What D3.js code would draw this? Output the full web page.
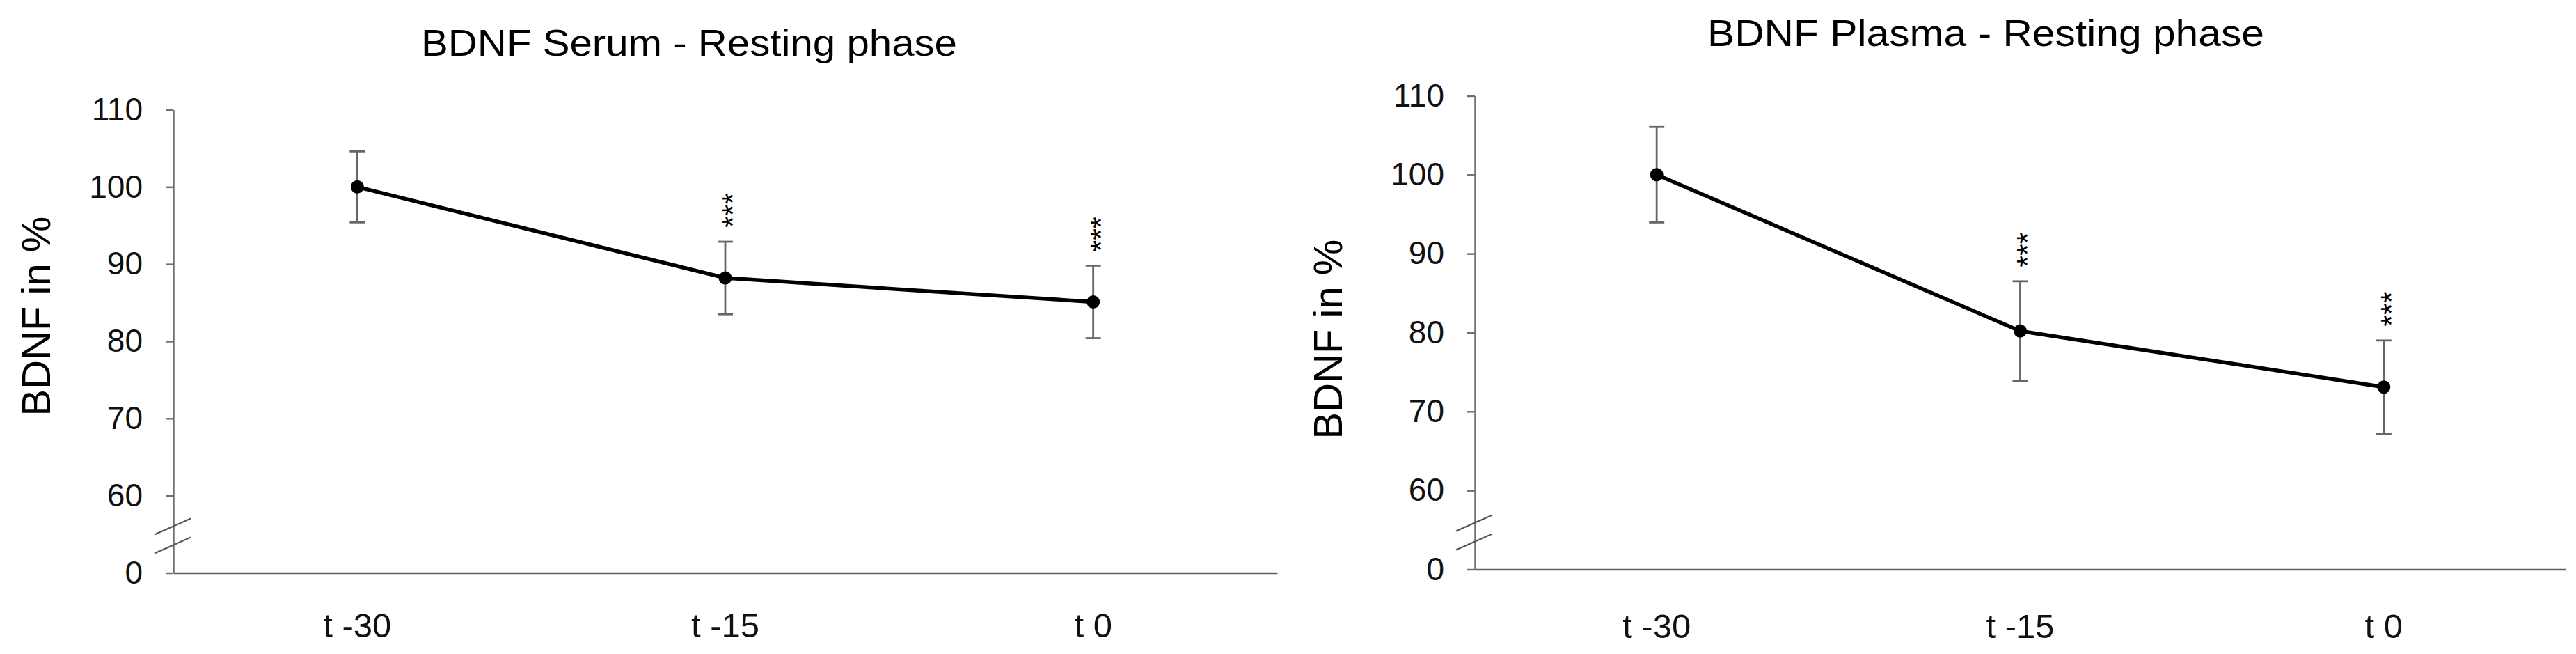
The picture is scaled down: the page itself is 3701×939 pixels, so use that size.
<!DOCTYPE html>
<html>
<head>
<meta charset="utf-8">
<script src="https://cdn.jsdelivr.net/npm/d3@7"></script>
<style>
  body { margin: 0; background: #fff; }
  text { font-family: "Liberation Sans", Arial, sans-serif; }
</style>
</head>
<body>
<svg id="chart" width="3701" height="939"></svg>
<script>
// x categories and y ticks (the axis is broken: "0" sits one step under 60)
var categories = ["t -30", "t -15", "t 0"];
var yTicks = [50, 60, 70, 80, 90, 100, 110];
var yTickLabels = ["0", "60", "70", "80", "90", "100", "110"];

// BDNF in % of t -30, mean and error
var serumMean = [100, 88.2, 85.1];
var serumErr = [4.6, 4.7, 4.7];
var plasmaMean = [100, 80.2, 73.1];
var plasmaErr = [6.05, 6.3, 5.9];
var significance = ["", "***", "***"];

var svg = d3.select('#chart');
svg.append('rect').attr('width', 3701).attr('height', 939).attr('fill', '#fff');

var panels = [
  { title: 'BDNF Serum - Resting phase', mean: serumMean, err: serumErr,
    left: 249, right: 1835, top: 157.5, bottom: 822.5,
    titleX: 990, titleY: 80, titleLen: 770,
    labelX: 51, labelY: 454, xPad: 58 },
  { title: 'BDNF Plasma - Resting phase', mean: plasmaMean, err: plasmaErr,
    left: 2119, right: 3686, top: 137.5, bottom: 817.5,
    titleX: 2853, titleY: 66, titleLen: 800,
    labelX: 1907, labelY: 487, xPad: 64 }
];

panels.forEach(drawPanel);

function drawPanel(p) {
  var g = svg.append('g');

  var x = d3.scaleBand().domain(categories).range([p.left, p.right]);
  var y = d3.scaleLinear().domain([50, 110]).range([p.bottom, p.top]);

  // title
  g.append('text')
    .attr('x', p.titleX)
    .attr('y', p.titleY)
    .attr('text-anchor', 'middle')
    .attr('font-size', 53)
    .attr('textLength', p.titleLen)
    .attr('lengthAdjust', 'spacingAndGlyphs')
    .style('fill', '#000')
    .text(p.title);

  // y axis
  var yAxis = d3.axisLeft(y)
    .tickValues(yTicks)
    .tickFormat(function(d, i) { return yTickLabels[i]; })
    .tickSize(11)
    .tickSizeOuter(0)
    .tickPadding(33);

  var ya = g.append('g')
    .attr('transform', 'translate(' + p.left + ',0)')
    .call(yAxis);
  ya.selectAll('path, line').style('stroke', '#707070').style('stroke-width', 2.5);
  ya.selectAll('text').attr('font-size', 46).style('fill', '#111');

  // axis break marks
  [67, 40].forEach(function(off) {
    g.append('line')
      .attr('x1', p.left - 27).attr('y1', p.bottom - off + 12)
      .attr('x2', p.left + 25).attr('y2', p.bottom - off - 11)
      .style('stroke', '#555')
      .style('stroke-width', 2.2);
  });

  // x axis
  var xAxis = d3.axisBottom(x).tickSize(0).tickSizeOuter(0).tickPadding(p.xPad);
  var xa = g.append('g')
    .attr('transform', 'translate(0,' + p.bottom + ')')
    .call(xAxis);
  xa.select('.domain').style('stroke', '#606060').style('stroke-width', 2.5);
  xa.selectAll('text').attr('font-size', 49).style('fill', '#111');

  // y axis title
  g.append('text')
    .attr('transform', 'translate(' + p.labelX + ',' + p.labelY + ') rotate(-90)')
    .attr('text-anchor', 'middle')
    .attr('dominant-baseline', 'central')
    .attr('font-size', 58)
    .style('fill', '#000')
    .text('BDNF in %');

  var pts = categories.map(function(c, i) {
    return { cx: x(c) + x.bandwidth() / 2, m: p.mean[i], e: p.err[i], sig: significance[i] };
  });

  // error bars
  var eb = g.selectAll('.err').data(pts).enter().append('g').attr('class', 'err');
  eb.append('line')
    .attr('x1', function(d) { return d.cx; })
    .attr('x2', function(d) { return d.cx; })
    .attr('y1', function(d) { return y(d.m - d.e); })
    .attr('y2', function(d) { return y(d.m + d.e); });
  eb.append('line')
    .attr('x1', function(d) { return d.cx - 11; })
    .attr('x2', function(d) { return d.cx + 11; })
    .attr('y1', function(d) { return y(d.m + d.e); })
    .attr('y2', function(d) { return y(d.m + d.e); });
  eb.append('line')
    .attr('x1', function(d) { return d.cx - 11; })
    .attr('x2', function(d) { return d.cx + 11; })
    .attr('y1', function(d) { return y(d.m - d.e); })
    .attr('y2', function(d) { return y(d.m - d.e); });
  eb.selectAll('line').style('stroke', '#666').style('stroke-width', 2.8);

  // mean line + markers
  var line = d3.line()
    .x(function(d) { return d.cx; })
    .y(function(d) { return y(d.m); });

  g.append('path')
    .datum(pts)
    .attr('d', line)
    .style('fill', 'none')
    .style('stroke', '#000')
    .style('stroke-width', 5.5);

  g.selectAll('.dot').data(pts).enter().append('circle')
    .attr('class', 'dot')
    .attr('cx', function(d) { return d.cx; })
    .attr('cy', function(d) { return y(d.m); })
    .attr('r', 9.5)
    .style('fill', '#000');

  // asterisks stacked vertically above the error bar (text turned on its side)
  g.selectAll('.sig').data(pts.filter(function(d) { return d.sig; })).enter().append('text')
    .attr('class', 'sig')
    .attr('transform', function(d) {
      return 'translate(' + d.cx + ',' + (y(d.m + d.e) - 20) + ') rotate(-90)';
    })
    .attr('dy', '0.58em')
    .attr('font-size', 43)
    .style('fill', '#000')
    .text(function(d) { return d.sig; });
}
</script>
</body>
</html>
